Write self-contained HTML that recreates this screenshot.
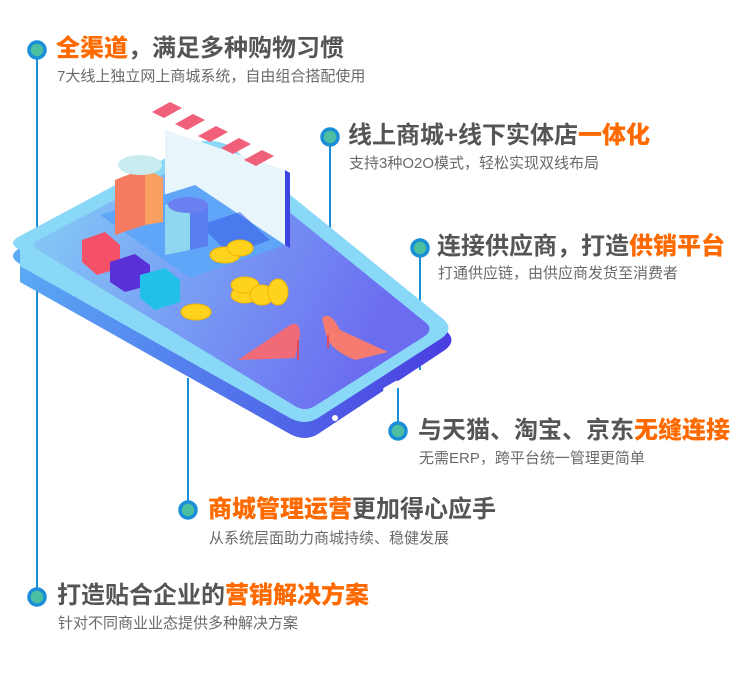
<!DOCTYPE html>
<html><head><meta charset="utf-8"><style>
body{margin:0;width:740px;height:680px;background:#fff;position:relative;overflow:hidden;font-family:"Liberation Sans","Noto Sans CJK SC",sans-serif}
.t{position:absolute;font-size:24px;font-weight:bold;color:#555;white-space:nowrap;line-height:28px}
.t b{color:#ff6a00}
.s{position:absolute;font-size:15px;color:#6a6a6a;white-space:nowrap;line-height:18px}
svg{position:absolute;left:0;top:0}
</style></head><body>
<svg width="740" height="680">
<defs>
<linearGradient id="sc" x1="0" y1="0" x2="1" y2="0.3"><stop offset="0" stop-color="#86d0f7"/><stop offset="1" stop-color="#6b6cf0"/></linearGradient>
<linearGradient id="bd" x1="0" y1="0" x2="1" y2="0"><stop offset="0" stop-color="#5aaaf5"/><stop offset="1" stop-color="#4a3de0"/></linearGradient>
</defs>
<g stroke="#1a8fd8" stroke-width="2">
<line x1="37" y1="55" x2="37" y2="595"/>
<line x1="330" y1="140" x2="330" y2="262"/>
<line x1="420" y1="250" x2="420" y2="370"/>
<line x1="398" y1="388" x2="398" y2="430"/>
<line x1="188" y1="378" x2="188" y2="510"/>
</g>
<path d="M20,264 Q6,256 20,248 L190,155 Q210,146 230,156 L445,330 Q458,340 445,350 L318,434 Q305,442 290,434 L20,282 Z" fill="url(#bd)"/>
<path d="M20,250 Q6,243 20,236 L190,145 Q210,136 230,146 L442,318 Q455,328 442,338 L318,418 Q305,426 290,418 L20,266 Z" fill="#8ad8f8"/>
<path d="M38,250 Q28,245 38,240 L195,158 Q210,152 225,160 L425,322 Q434,329 425,336 L315,406 Q305,412 295,406 Z" fill="url(#sc)"/>
<circle cx="400" cy="385" r="3" fill="#fff"/><rect x="382" y="384" width="18" height="5" rx="2.5" fill="#fff" transform="rotate(-30 391 386)"/>
<circle cx="335" cy="418" r="3" fill="#fff"/>
<g fill="#fff"><circle cx="416" cy="373" r="2"/><circle cx="423" cy="369" r="2"/><circle cx="429" cy="366" r="2"/><circle cx="435" cy="362" r="2"/><circle cx="441" cy="358" r="2"/></g>
<polygon points="165,130 285,170 285,245 165,205" fill="#e8f6fb"/>
<polygon points="285,170 290,173 290,248 285,245" fill="#3d44e0"/>
<g fill="#f0607a"><polygon points="152,112 170,102 182,108 164,118"/><polygon points="175,124 193,114 205,120 187,130"/><polygon points="198,136 216,126 228,132 210,142"/><polygon points="221,148 239,138 251,144 233,154"/><polygon points="244,160 262,150 274,156 256,166"/></g>
<polygon points="100,215 195,185 285,245 190,278" fill="#5fa5f8"/>
<polygon points="200,225 240,212 270,240 230,255" fill="#3b5fe8" opacity=".6"/>
<polygon points="115,180 145,168 145,225 115,235" fill="#f47a60"/><polygon points="145,168 163,178 163,222 145,225" fill="#f7a060"/><ellipse cx="140" cy="165" rx="22" ry="10" fill="#c8ecf0"/>
<polygon points="165,205 190,198 190,250 165,255" fill="#8fd6f0"/><polygon points="190,198 208,206 208,246 190,250" fill="#5a7ef0"/><ellipse cx="188" cy="205" rx="20" ry="8" fill="#6a80f0"/>
<polygon points="82,240 105,232 120,245 120,268 97,275 82,262" fill="#f5506a"/>
<polygon points="110,262 135,254 150,265 150,285 125,292 110,282" fill="#5a30d8"/>
<polygon points="140,275 165,268 180,280 180,302 155,310 140,298" fill="#22c0e8"/>
<g fill="#ffd21e" stroke="#f2b400" stroke-width="1"><ellipse cx="225" cy="255" rx="15" ry="8"/><ellipse cx="240" cy="248" rx="13" ry="8"/><ellipse cx="245" cy="295" rx="14" ry="8"/><ellipse cx="245" cy="285" rx="14" ry="8"/><ellipse cx="262" cy="295" rx="12" ry="10"/><ellipse cx="278" cy="292" rx="10" ry="13"/><ellipse cx="196" cy="312" rx="15" ry="8"/></g>
<path d="M238,360 L290,325 Q300,320 300,335 L295,358 Z" fill="#f06a78"/><line x1="298" y1="340" x2="298" y2="360" stroke="#e04a5a" stroke-width="2"/>
<path d="M322,318 Q330,310 340,330 L388,352 L355,360 Q330,350 326,335 Z" fill="#f57a70"/><line x1="328" y1="335" x2="328" y2="348" stroke="#e04a5a" stroke-width="2"/>
<g fill="#4cbfa0" stroke="#1a8fd8" stroke-width="3.5">
<circle cx="37" cy="50" r="8"/><circle cx="330" cy="137" r="8"/><circle cx="420" cy="248" r="8"/><circle cx="398" cy="431" r="8"/><circle cx="188" cy="510" r="8"/><circle cx="37" cy="597" r="8"/>
</g>
</svg>
<div class="t" style="left:56px;top:35px"><b>全渠道</b>，满足多种购物习惯</div>
<div class="s" style="left:57px;top:68px">7大线上独立网上商城系统，自由组合搭配使用</div>
<div class="t" style="left:348px;top:122px">线上商城+线下实体店<b>一体化</b></div>
<div class="s" style="left:349px;top:155px">支持3种O2O模式，轻松实现双线布局</div>
<div class="t" style="left:437px;top:233px">连接供应商，打造<b>供销平台</b></div>
<div class="s" style="left:438px;top:265px">打通供应链，由供应商发货至消费者</div>
<div class="t" style="left:418px;top:417px">与天猫、淘宝、京东<b>无缝连接</b></div>
<div class="s" style="left:419px;top:450px">无需ERP，跨平台统一管理更简单</div>
<div class="t" style="left:208px;top:496px"><b>商城管理运营</b>更加得心应手</div>
<div class="s" style="left:209px;top:530px">从系统层面助力商城持续、稳健发展</div>
<div class="t" style="left:57px;top:582px">打造贴合企业的<b>营销解决方案</b></div>
<div class="s" style="left:58px;top:615px">针对不同商业业态提供多种解决方案</div>
</body></html>
